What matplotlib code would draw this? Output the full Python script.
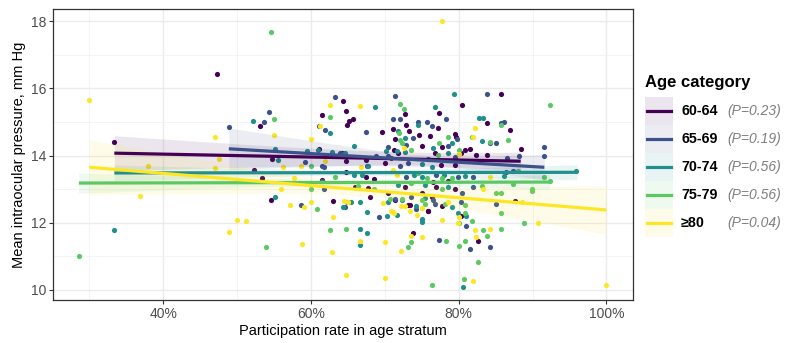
import numpy as np
import matplotlib
matplotlib.use("Agg")
import matplotlib.pyplot as plt
from matplotlib.patches import Rectangle
from matplotlib.lines import Line2D

plt.rcParams["font.family"] = ["Liberation Sans", "DejaVu Sans"]

# ---------- data ----------

groups = ["60-64", "65-69", "70-74", "75-79", "\u226580"]
p_labels = ["(P=0.23)", "(P=0.19)", "(P=0.56)", "(P=0.56)", "(P=0.04)"]
colors = ["#440154", "#3B528B", "#21908C", "#5DC863", "#FDE725"]

x_6064 = [33.4, 47.3, 53.1, 52.3, 53.4, 54.6, 54.7, 61.5, 61.1, 61.5, 63.0, 64.3, 64.7, 64.9,
          65.1, 65.7, 64.7, 64.7, 66.0, 67.7, 68.0, 69.6, 68.5, 67.4, 70.0, 71.1, 70.4, 85.7,
          72.8, 77.3, 80.4, 83.8, 77.2, 72.9, 73.3, 74.6, 79.6, 76.1, 71.4, 75.1, 77.8, 81.5,
          88.4, 83.8, 82.4, 87.6, 80.3, 82.6, 73.8, 75.9, 73.2, 77.7, 71.8, 76.8, 77.6, 79.5,
          80.3, 67.4, 76.5, 78.5, 72.7, 77.0, 79.5, 75.0, 76.4, 71.4, 73.4, 75.8, 64.2, 79.5,
          71.2, 80.8, 86.9]
y_6064 = [14.40, 16.42, 14.87, 13.57, 13.33, 12.67, 13.89, 15.20, 14.19, 13.27, 12.64, 15.62,
          15.32, 14.90, 15.02, 15.10, 13.83, 13.50, 13.06, 13.02, 12.77, 14.70, 13.30, 13.86,
          13.77, 14.79, 12.88, 15.83, 15.24, 15.27, 15.49, 14.96, 14.82, 14.91, 14.74, 14.61,
          14.55, 14.57, 14.49, 14.29, 14.24, 14.19, 14.18, 14.03, 14.01, 12.65, 12.19, 11.45,
          11.70, 12.36, 12.53, 12.50, 14.06, 14.06, 13.71, 13.71, 14.06, 13.35, 13.20, 13.24,
          13.06, 13.06, 13.00, 12.88, 12.77, 12.67, 12.52, 12.36, 14.07, 14.64, 14.16, 14.16,
          14.75]

x_6569 = [48.9, 53.6, 54.3, 59.2, 58.6, 61.1, 61.5, 61.9, 61.8, 61.8, 63.2, 63.9, 67.4, 67.6,
          69.2, 70.4, 71.4, 71.4, 83.9, 78.3, 86.1, 85.8, 76.4, 75.7, 71.1, 72.1, 74.5, 79.8,
          73.8, 72.9, 78.5, 85.1, 84.2, 91.6, 91.6, 86.5, 85.1, 81.0, 81.5, 84.3, 77.3, 73.5,
          76.5, 80.3, 74.2, 76.8, 68.8, 70.9, 72.0, 73.1, 75.8, 79.5, 72.9, 77.0, 79.9, 80.4,
          61.5, 64.6, 70.5, 88.2, 81.9, 86.4, 87.3, 81.9]
y_6569 = [14.85, 14.99, 15.30, 13.80, 12.53, 14.87, 13.69, 14.76, 13.00, 13.65, 15.74, 14.07,
          14.70, 13.69, 12.17, 14.00, 12.70, 15.77, 15.83, 15.10, 15.00, 14.98, 14.88, 14.99,
          15.08, 15.08, 14.99, 14.48, 14.51, 14.30, 14.28, 14.37, 14.36, 14.24, 13.98, 13.93,
          12.57, 11.90, 11.22, 11.28, 11.50, 12.77, 12.67, 12.63, 12.42, 12.57, 13.98, 13.92,
          13.69, 13.78, 13.89, 13.95, 13.36, 13.42, 13.36, 12.88, 13.24, 12.47, 14.25, 14.00,
          13.37, 13.50, 13.53, 13.06]

x_7074 = [33.4, 52.2, 55.1, 55.1, 55.5, 59.5, 60.9, 62.6, 64.3, 64.9, 65.8, 64.6, 65.8, 65.4,
          66.6, 66.6, 67.6, 67.6, 68.7, 70.2, 79.4, 76.8, 82.8, 83.3, 79.1, 72.7, 76.5, 71.6,
          75.0, 75.0, 71.6, 72.4, 74.2, 79.1, 70.3, 70.4, 79.9, 81.0, 80.6, 72.7, 67.7, 75.0,
          76.4, 78.5, 66.9, 74.0, 75.0, 78.0, 80.8, 71.8, 75.4, 78.5, 75.4, 62.8, 74.5, 71.8,
          83.2, 86.1, 95.9, 66.6]
y_7074 = [11.78, 15.02, 14.19, 12.76, 13.86, 14.14, 14.17, 14.67, 12.46, 12.62, 14.28, 14.07,
          13.42, 12.62, 11.81, 12.62, 11.70, 12.31, 15.44, 14.14, 15.84, 15.44, 15.11, 15.13,
          14.37, 14.51, 14.23, 14.14, 12.12, 12.03, 12.22, 12.67, 12.50, 12.46, 12.20, 12.62,
          12.30, 12.20, 10.08, 14.10, 13.68, 13.74, 13.65, 14.07, 13.42, 13.42, 13.36, 13.42,
          13.38, 13.12, 13.12, 13.06, 12.73, 14.10, 14.90, 14.72, 14.43, 13.38, 13.53, 11.33]

x_7579 = [28.6, 54.6, 55.0, 53.9, 60.0, 60.0, 60.8, 62.6, 62.6, 63.2, 64.7, 70.7, 92.3, 72.0,
          72.6, 85.7, 71.9, 78.6, 81.8, 72.0, 72.3, 80.0, 86.7, 80.0, 92.3, 89.9, 89.9, 85.1,
          85.7, 85.7, 88.8, 80.9, 80.0, 81.8, 83.3, 85.7, 83.9, 80.9, 80.0, 82.6, 80.7, 76.4,
          78.3, 73.6, 73.1, 75.0, 78.2, 80.8, 72.3, 75.5, 73.6, 77.2, 74.5, 75.7, 77.7, 79.1,
          66.4, 68.6, 73.6, 77.7, 77.4, 84.3, 91.6, 88.1, 83.2, 87.4]
y_7579 = [11.00, 17.67, 15.08, 11.27, 13.69, 13.00, 12.41, 15.14, 11.78, 13.36, 11.81, 12.70,
          15.50, 15.54, 15.39, 14.90, 14.67, 14.55, 14.55, 14.46, 14.36, 14.17, 14.46, 14.05,
          13.24, 13.00, 12.93, 12.87, 12.88, 12.30, 12.00, 12.28, 12.00, 12.05, 11.79, 11.82,
          11.60, 11.46, 11.30, 10.83, 10.33, 10.15, 11.45, 11.42, 11.27, 12.67, 12.56, 12.54,
          12.70, 12.57, 14.16, 14.03, 13.47, 13.33, 13.33, 13.33, 13.09, 13.00, 13.17, 13.00,
          14.37, 14.40, 13.36, 13.53, 13.09, 13.15]

x_80 = [30.0, 36.9, 38.0, 47.0, 47.0, 47.6, 48.9, 50.0, 51.2, 55.0, 56.2, 55.9, 57.2, 57.7,
        58.8, 59.1, 58.6, 60.0, 60.0, 61.3, 61.9, 62.6, 63.0, 62.8, 64.7, 64.5, 66.6, 66.6,
        66.8, 70.0, 70.0, 71.1, 77.7, 82.2, 72.6, 83.3, 88.6, 90.8, 80.0, 82.2, 84.2, 82.3,
        82.0, 100.0, 77.7, 75.0, 73.5, 72.2, 70.9, 71.3, 72.2, 72.7, 75.1, 78.5, 69.7, 79.9,
        73.4, 74.3, 75.0, 80.0, 71.1, 71.6, 81.9, 84.3, 65.0]
y_80 = [15.65, 12.80, 13.68, 14.55, 13.63, 13.90, 11.72, 12.07, 12.05, 14.60, 13.65, 13.00,
        12.52, 13.33, 11.36, 12.46, 13.69, 14.49, 12.61, 14.87, 13.83, 15.50, 12.17, 11.13,
        10.44, 12.64, 15.47, 11.45, 13.65, 10.35, 11.42, 12.32, 18.00, 14.82, 14.23, 12.99,
        12.62, 12.00, 12.17, 11.79, 11.80, 11.56, 10.27, 10.15, 12.07, 11.56, 11.60, 11.15,
        12.36, 12.30, 12.50, 12.50, 12.44, 12.61, 12.58, 12.00, 12.34, 12.22, 12.43, 14.04,
        13.57, 13.42, 14.55, 13.36, 12.63]

xs = [x_6064, x_6569, x_7074, x_7579, x_80]
ys = [y_6064, y_6569, y_7074, y_7579, y_80]

# fitted lines: start/end of each regression line
fit_x0 = [33.4, 48.9, 33.4, 28.6, 30.0]
fit_x1 = [88.4, 91.6, 96.0, 92.3, 100.0]
fit_y0 = [14.07, 14.20, 13.48, 13.18, 13.65]
fit_y1 = [13.83, 13.65, 13.50, 13.21, 12.38]
# confidence band: centre, minimum half width, half width at line start
ci_centre = [74.0, 76.0, 66.0, 65.9, 67.4]
ci_min = [0.21, 0.15, 0.08, 0.08, 0.18]
ci_start = [0.52, 0.62, 0.24, 0.30, 0.82]

# ---------- plot ----------

W, H = 785, 343
fig = plt.figure(figsize=(W / 100, H / 100), dpi=100)
ax = fig.add_axes([53 / W, 1 - 300 / H, (633 - 53) / W, (300 - 9) / H])

for i in range(5):
    ax.scatter(xs[i], ys[i], s=14, color=colors[i], linewidths=0, zorder=2)

for i in range(5):
    xx = np.linspace(fit_x0[i], fit_x1[i], 100)
    slope = (fit_y1[i] - fit_y0[i]) / (fit_x1[i] - fit_x0[i])
    yy = fit_y0[i] + slope * (xx - fit_x0[i])
    k = np.sqrt(ci_start[i] ** 2 - ci_min[i] ** 2) / abs(fit_x0[i] - ci_centre[i])
    hw = np.sqrt(ci_min[i] ** 2 + (k * (xx - ci_centre[i])) ** 2)
    ax.fill_between(xx, yy - hw, yy + hw, color=colors[i], alpha=0.1,
                    linewidth=0, zorder=3)

for i in range(5):
    xx = np.array([fit_x0[i], fit_x1[i]])
    yy = np.array([fit_y0[i], fit_y1[i]])
    ax.plot(xx, yy, color=colors[i], lw=2.3, solid_capstyle="butt", zorder=4)

ax.set_xlim(25.1, 103.6)
ax.set_ylim(9.7, 18.36)
ax.set_xticks([40, 60, 80, 100])
ax.set_xticklabels(["40%", "60%", "80%", "100%"])
ax.set_xticks([30, 50, 70, 90], minor=True)
ax.set_yticks([10, 12, 14, 16, 18])
ax.set_yticks([11, 13, 15, 17], minor=True)
ax.grid(which="major", color="#EBEBEB", lw=1.0, zorder=0)
ax.grid(which="minor", color="#F2F2F2", lw=0.6, zorder=0)
ax.set_axisbelow(True)
ax.tick_params(which="major", length=3, width=0.8, color="#333333",
               labelsize=10, labelcolor="#4D4D4D", pad=2)
ax.tick_params(which="minor", length=0)
for s in ax.spines.values():
    s.set_color("#333333")
    s.set_linewidth(0.9)

ax.set_xlabel("Participation rate in age stratum", fontsize=10.5, labelpad=2)
ax.set_ylabel("Mean intraocular pressure, mm Hg", fontsize=10.5, labelpad=3)

# ---------- legend ----------

def fx(px):
    return px / W

def fy(py):
    return 1 - py / H

fig.text(fx(645), fy(82), "Age category", fontsize=12, fontweight="bold",
         ha="left", va="center")
key_h = 28
for i in range(5):
    top = 97 + i * key_h
    fig.patches.append(Rectangle((fx(645), fy(top + key_h)), 28 / W, key_h / H,
                                 transform=fig.transFigure, color=colors[i],
                                 alpha=0.1, linewidth=0))
    cy = top + key_h / 2
    fig.add_artist(Line2D([fx(647), fx(671)], [fy(cy), fy(cy)], color=colors[i],
                          lw=2.3, transform=fig.transFigure))
    fig.text(fx(681), fy(cy), groups[i], fontsize=10.3, fontweight="bold",
             ha="left", va="center")
    fig.text(fx(727), fy(cy), p_labels[i], fontsize=10, style="italic",
             color="#7F7F7F", ha="left", va="center")

fig.savefig("out.png", dpi=100)
